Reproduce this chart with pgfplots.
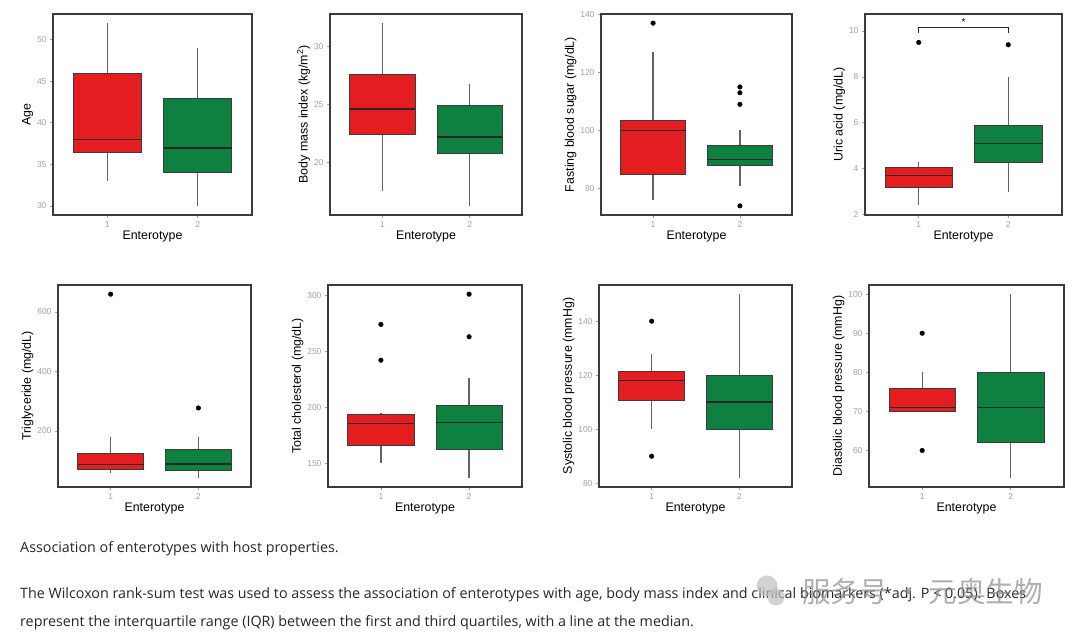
\documentclass[border=0pt]{standalone}
\usepackage{pgfplots}
\pgfplotsset{compat=1.18}
\usepackage{fontspec}
\setmainfont{Liberation Sans}
\newfontfamily\capfont{Open Sans}
\newfontfamily\cjk{Noto Sans CJK SC}

\definecolor{boxred}{RGB}{228,30,32}
\definecolor{boxgreen}{RGB}{14,128,64}
\definecolor{tickgray}{RGB}{160,160,160}
\definecolor{framegray}{RGB}{60,60,60}
\definecolor{whiskgray}{RGB}{100,100,100}

\pgfplotsset{
  panel/.style={
    scale only axis, anchor=north west,
    xmin=0.4, xmax=2.6, xtick={1,2},
    xlabel={Enterotype},
    tick align=outside, major tick length=3pt,
    xtick pos=left, ytick pos=left,
    tick style={tickgray, line width=0.7pt},
    axis line style={framegray, line width=1.4pt},
    ticklabel style={font=\fontsize{8.5}{9}\selectfont, text=tickgray},
    label style={font=\fontsize{12.4}{13}\selectfont},
    xlabel style={yshift=3pt},
    ylabel style={yshift=-3pt},
    /pgf/number format/assume math mode=true,
    /pgf/number format/set thousands separator={},
  },
  outl/.style={only marks, mark=*, mark size=2.3pt, black},
}

% one box: colour, left, centre, right, lower whisker, Q1, median, Q3, upper whisker
\newcommand{\bx}[9]{%
  \addplot[whiskgray, line width=1.2pt] coordinates {(#3,#5) (#3,#6)};
  \addplot[whiskgray, line width=1.2pt] coordinates {(#3,#8) (#3,#9)};
  \addplot[fill=#1, draw=framegray, line width=0.7pt]
    coordinates {(#2,#6) (#4,#6) (#4,#8) (#2,#8)} -- cycle;
  \addplot[black!85, line width=1.6pt] coordinates {(#2,#7) (#4,#7)};
}

\begin{document}
\begin{tikzpicture}
\useasboundingbox (0pt,0pt) rectangle (1080pt,636pt);

% ---- top row ----
\begin{axis}[panel, at={(53pt,622pt)}, width=199pt, height=201pt,
  ymin=28.9, ymax=53.1, ytick={30,35,40,45,50}, ylabel={Age}]
  \bx{boxred}{0.625}{1}{1.375}{33}{36.4}{38}{46}{52}
  \bx{boxgreen}{1.625}{2}{2.375}{30}{34}{37}{43}{49}
\end{axis}

\begin{axis}[panel, at={(330pt,622pt)}, width=192pt, height=201pt,
  ymin=15.5, ymax=32.8, ytick={20,25,30},
  ylabel={Body mass index (kg/m\textsuperscript{2})}]
  \bx{boxred}{0.625}{1}{1.375}{17.6}{22.4}{24.6}{27.6}{32}
  \bx{boxgreen}{1.625}{2}{2.375}{16.3}{20.8}{22.2}{24.9}{26.8}
\end{axis}

\begin{axis}[panel, at={(601pt,622pt)}, width=191pt, height=201pt,
  ymin=70.85, ymax=140.15, ytick={80,100,120,140},
  ylabel={Fasting blood sugar (mg/dL)}]
  \bx{boxred}{0.625}{1}{1.375}{76}{85}{100}{103.5}{127}
  \bx{boxgreen}{1.625}{2}{2.375}{81}{88}{90}{95}{100}
  \addplot[outl] coordinates {(1,137) (2,115) (2,113) (2,109) (2,74)};
\end{axis}

\begin{axis}[panel, at={(865pt,622pt)}, width=197pt, height=201pt,
  ymin=1.98, ymax=10.74, ytick={2,4,6,8,10},
  ylabel={Uric acid (mg/dL)}]
  \bx{boxred}{0.625}{1}{1.375}{2.4}{3.18}{3.7}{4.06}{4.28}
  \bx{boxgreen}{1.625}{2}{2.375}{3.0}{4.28}{5.1}{5.9}{8.0}
  \addplot[outl] coordinates {(1,9.5) (2,9.4)};
  \addplot[black!85, line width=0.8pt] coordinates
    {(1,9.91) (1,10.17) (2,10.17) (2,9.91)};
  \node[anchor=base, font=\fontsize{10}{10}\selectfont, inner sep=0pt] at (axis cs:1.5,10.26) {*};
\end{axis}

% ---- bottom row ----
\begin{axis}[panel, at={(58pt,351pt)}, width=193pt, height=202pt,
  ymin=11.1, ymax=690.9, ytick={200,400,600},
  ylabel={Triglyceride (mg/dL)}]
  \bx{boxred}{0.625}{1}{1.375}{59}{72}{87}{125}{181}
  \bx{boxgreen}{1.625}{2}{2.375}{42}{68}{88}{138}{181}
  \addplot[outl] coordinates {(1,660) (2,277)};
\end{axis}

\begin{axis}[panel, at={(328pt,351pt)}, width=194pt, height=202pt,
  ymin=128.8, ymax=309.2, ytick={150,200,250,300},
  ylabel={Total cholesterol (mg/dL)}]
  \bx{boxred}{0.625}{1}{1.375}{150.5}{166.3}{185.4}{193.4}{194.5}
  \bx{boxgreen}{1.625}{2}{2.375}{137}{162}{186.3}{202}{226}
  \addplot[outl] coordinates {(1,274) (1,242) (2,301) (2,263)};
\end{axis}

\begin{axis}[panel, at={(599pt,351pt)}, width=193pt, height=202pt,
  ymin=78.6, ymax=153.4, ytick={80,100,120,140},
  ylabel={Systolic blood pressure (mmHg)}]
  \bx{boxred}{0.625}{1}{1.375}{100}{110.5}{118}{121.6}{127.8}
  \bx{boxgreen}{1.625}{2}{2.375}{82}{100}{110}{120}{150}
  \addplot[outl] coordinates {(1,140) (1,90)};
\end{axis}

\begin{axis}[panel, at={(869pt,351pt)}, width=195pt, height=202pt,
  ymin=50.65, ymax=102.35, ytick={60,70,80,90,100},
  ylabel={Diastolic blood pressure (mmHg)}]
  \bx{boxred}{0.625}{1}{1.375}{70}{70}{71}{76}{80}
  \bx{boxgreen}{1.625}{2}{2.375}{53}{62}{71}{80}{100}
  \addplot[outl] coordinates {(1,90) (1,60)};
\end{axis}

% ---- caption ----
\node[anchor=base west, inner sep=0pt, font=\capfont\fontsize{14.3}{17}\selectfont, text=black!85]
  at (20pt,83pt) {Association of enterotypes with host properties.};
\node[anchor=base west, inner sep=0pt, font=\capfont\fontsize{14.3}{17}\selectfont, text=black!85]
  at (20pt,37pt) {The Wilcoxon rank-sum test was used to assess the association of enterotypes with age, body mass index and clinical biomarkers (*adj. P < 0.05). Boxes};
\node[anchor=base west, inner sep=0pt, font=\capfont\fontsize{14.3}{17}\selectfont, text=black!85]
  at (20pt,9pt) {represent the interquartile range (IQR) between the first and third quartiles, with a line at the median.};

% ---- watermark ----
\fill[black!25, opacity=0.7] (767pt,50pt) circle (10.5pt);
\fill[black!25, opacity=0.7] (776pt,39pt) circle (8.5pt);
\node[anchor=base west, inner sep=0pt, font=\cjk\fontsize{28.5}{30}\selectfont, text=black!45, opacity=0.7]
  at (802pt,33pt) {服务号 · 元奥生物};
\end{tikzpicture}
\end{document}
